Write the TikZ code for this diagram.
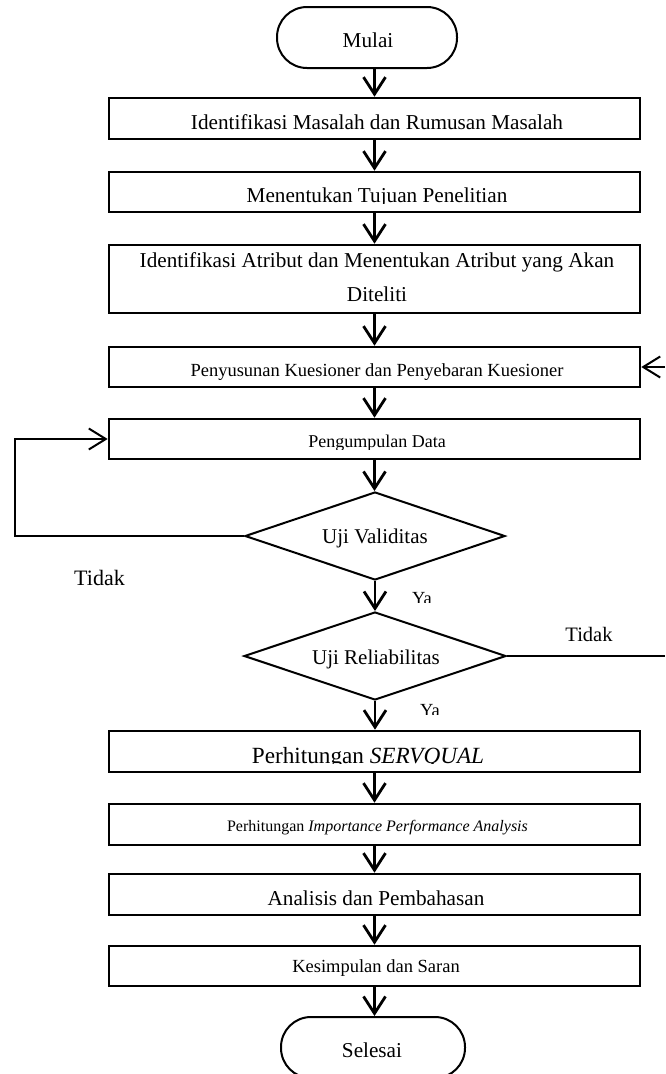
\documentclass[tikz,border=0pt]{standalone}
\usepackage{fontspec}
\setmainfont{Liberation Serif}
\usetikzlibrary{arrows.meta,shapes.geometric}
\newcommand\fsz[1]{\fontsize{#1}{#1}\selectfont}
\begin{document}
\begin{tikzpicture}[x=1pt,y=-1pt,
  box/.style={draw, line width=2.6pt, minimum width=531pt, inner sep=0pt},
  term/.style={draw, line width=2pt, rounded corners=30pt, minimum width=180pt, minimum height=61pt, inner sep=0pt},
  dia/.style={draw, diamond, line width=2pt, inner sep=0pt},
  txt/.style={inner sep=0pt, anchor=base},
  arr/.style={line width=2.8pt, -{Straight Barb[length=17pt,width=22pt]}},
  arrh/.style={line width=2pt, -{Straight Barb[length=17pt,width=21pt]}},
  ln/.style={line width=2pt},
]
\useasboundingbox (0,0) rectangle (665,1074);

% terminals
\node[term] (mulai) at (367,37.5) {};
\node[txt, font=\fsz{21.2}] (tmulai) at (368,47) {Mulai};
\node[term, minimum width=184pt] (selesai) at (373,1047.5) {};
\node[txt, font=\fsz{21.2}] (tselesai) at (372,1057) {Selesai};

% process boxes
\node[box, minimum height=41pt] (b1) at (374.5,118.5) {};
\node[box, minimum height=40pt] (b2) at (374.5,192) {};
\node[box, minimum height=68pt] (b3) at (374.5,279) {};
\node[box, minimum height=40pt] (b4) at (374.5,367) {};
\node[box, minimum height=40pt] (b5) at (374.5,439) {};
\node[box, minimum height=41pt] (b6) at (374.5,751.5) {};
\node[box, minimum height=41pt] (b7) at (374.5,824.5) {};
\node[box, minimum height=41pt] (b8) at (374.5,894.5) {};
\node[box, minimum height=40pt] (b9) at (374.5,966) {};

% decisions
\node[dia, minimum width=260pt, minimum height=88pt] (d1) at (375,536) {};
\node[dia, minimum width=262pt, minimum height=88pt] (d2) at (375,656) {};

% texts
\node[txt, font=\fsz{21.2}] (t1) at (377,129) {Identifikasi Masalah dan Rumusan Masalah};
\begin{scope}
  \clip (100,170) rectangle (650,203);
  \node[txt, font=\fsz{21.2}] (t2) at (377,202) {Menentukan Tujuan Penelitian};
\end{scope}
\node[inner sep=0pt, anchor=south, align=center, font=\fontsize{21.2}{34}\selectfont] (t3) at (377,302)
  {Identifikasi Atribut dan Menentukan Atribut yang Akan\\Diteliti};
\node[txt, font=\fsz{18.5}] (t4) at (377,376) {Penyusunan Kuesioner dan Penyebaran Kuesioner};
\begin{scope}
  \clip (100,417) rectangle (650,449);
  \node[txt, font=\fsz{18}] (t5) at (377,447) {Pengumpulan Data};
\end{scope}
\node[txt, font=\fsz{21}] (tu1) at (375,543) {Uji Validitas};
\node[txt, font=\fsz{21}] (tu2) at (376,664) {Uji Reliabilitas};
\node[txt, font=\fsz{22}] (tdk1) at (99.5,585) {Tidak};
\node[txt, font=\fsz{20.5}] (tdk2) at (589,641) {Tidak};
\begin{scope}
  \clip (400,585) rectangle (450,602.5);
  \node[txt, font=\fsz{18.5}] (ya1) at (422,604.5) {Ya};
\end{scope}
\begin{scope}
  \clip (400,700) rectangle (450,714.5);
  \node[txt, font=\fsz{18.5}] (ya2) at (430,716.5) {Ya};
\end{scope}
\begin{scope}
  \clip (100,729) rectangle (650,763.6);
  \node[txt, font=\fsz{23.2}] (t6) at (368,763) {Perhitungan \textit{SERVQUAL}};
\end{scope}
\node[txt, font=\fsz{16}] (t7) at (377.5,831) {Perhitungan \textit{Importance Performance Analysis}};
\node[txt, font=\fsz{21.2}] (t8) at (376,905) {Analisis dan Pembahasan};
\node[txt, font=\fsz{18.5}] (t9) at (376,972) {Kesimpulan dan Saran};

% vertical flow
\draw[arr] (mulai.south -| b1.north) -- (b1.north);
\draw[arr] (b1.south) -- (b2.north);
\draw[arr] (b2.south) -- (b3.north);
\draw[arr] (b3.south) -- (b4.north);
\draw[arr] (b4.south) -- (b5.north);
\draw[arr] (b5.south) -- (b5.south |- d1.north);
\draw[arr] (d1.south) -- (d2.north);
\draw[arr] (d2.south) -- (d2.south |- b6.north);
\draw[arr] (b6.south) -- (b7.north);
\draw[arr] (b7.south) -- (b8.north);
\draw[arr] (b8.south) -- (b9.north);
\draw[arr] (b9.south) -- (b9.south |- selesai.north);

% loop back (Tidak) from Uji Validitas
\coordinate (loopL) at (15,536);
\draw[arrh] (d1.west) -- (loopL) |- (b5.west);

% Tidak from Uji Reliabilitas
\coordinate (rOut) at (665,656);
\draw[ln] (d2.east) -- (rOut);
\coordinate (rIn) at (665,367);
\draw[arrh] (rIn) -- (b4.east);
\end{tikzpicture}
\end{document}
